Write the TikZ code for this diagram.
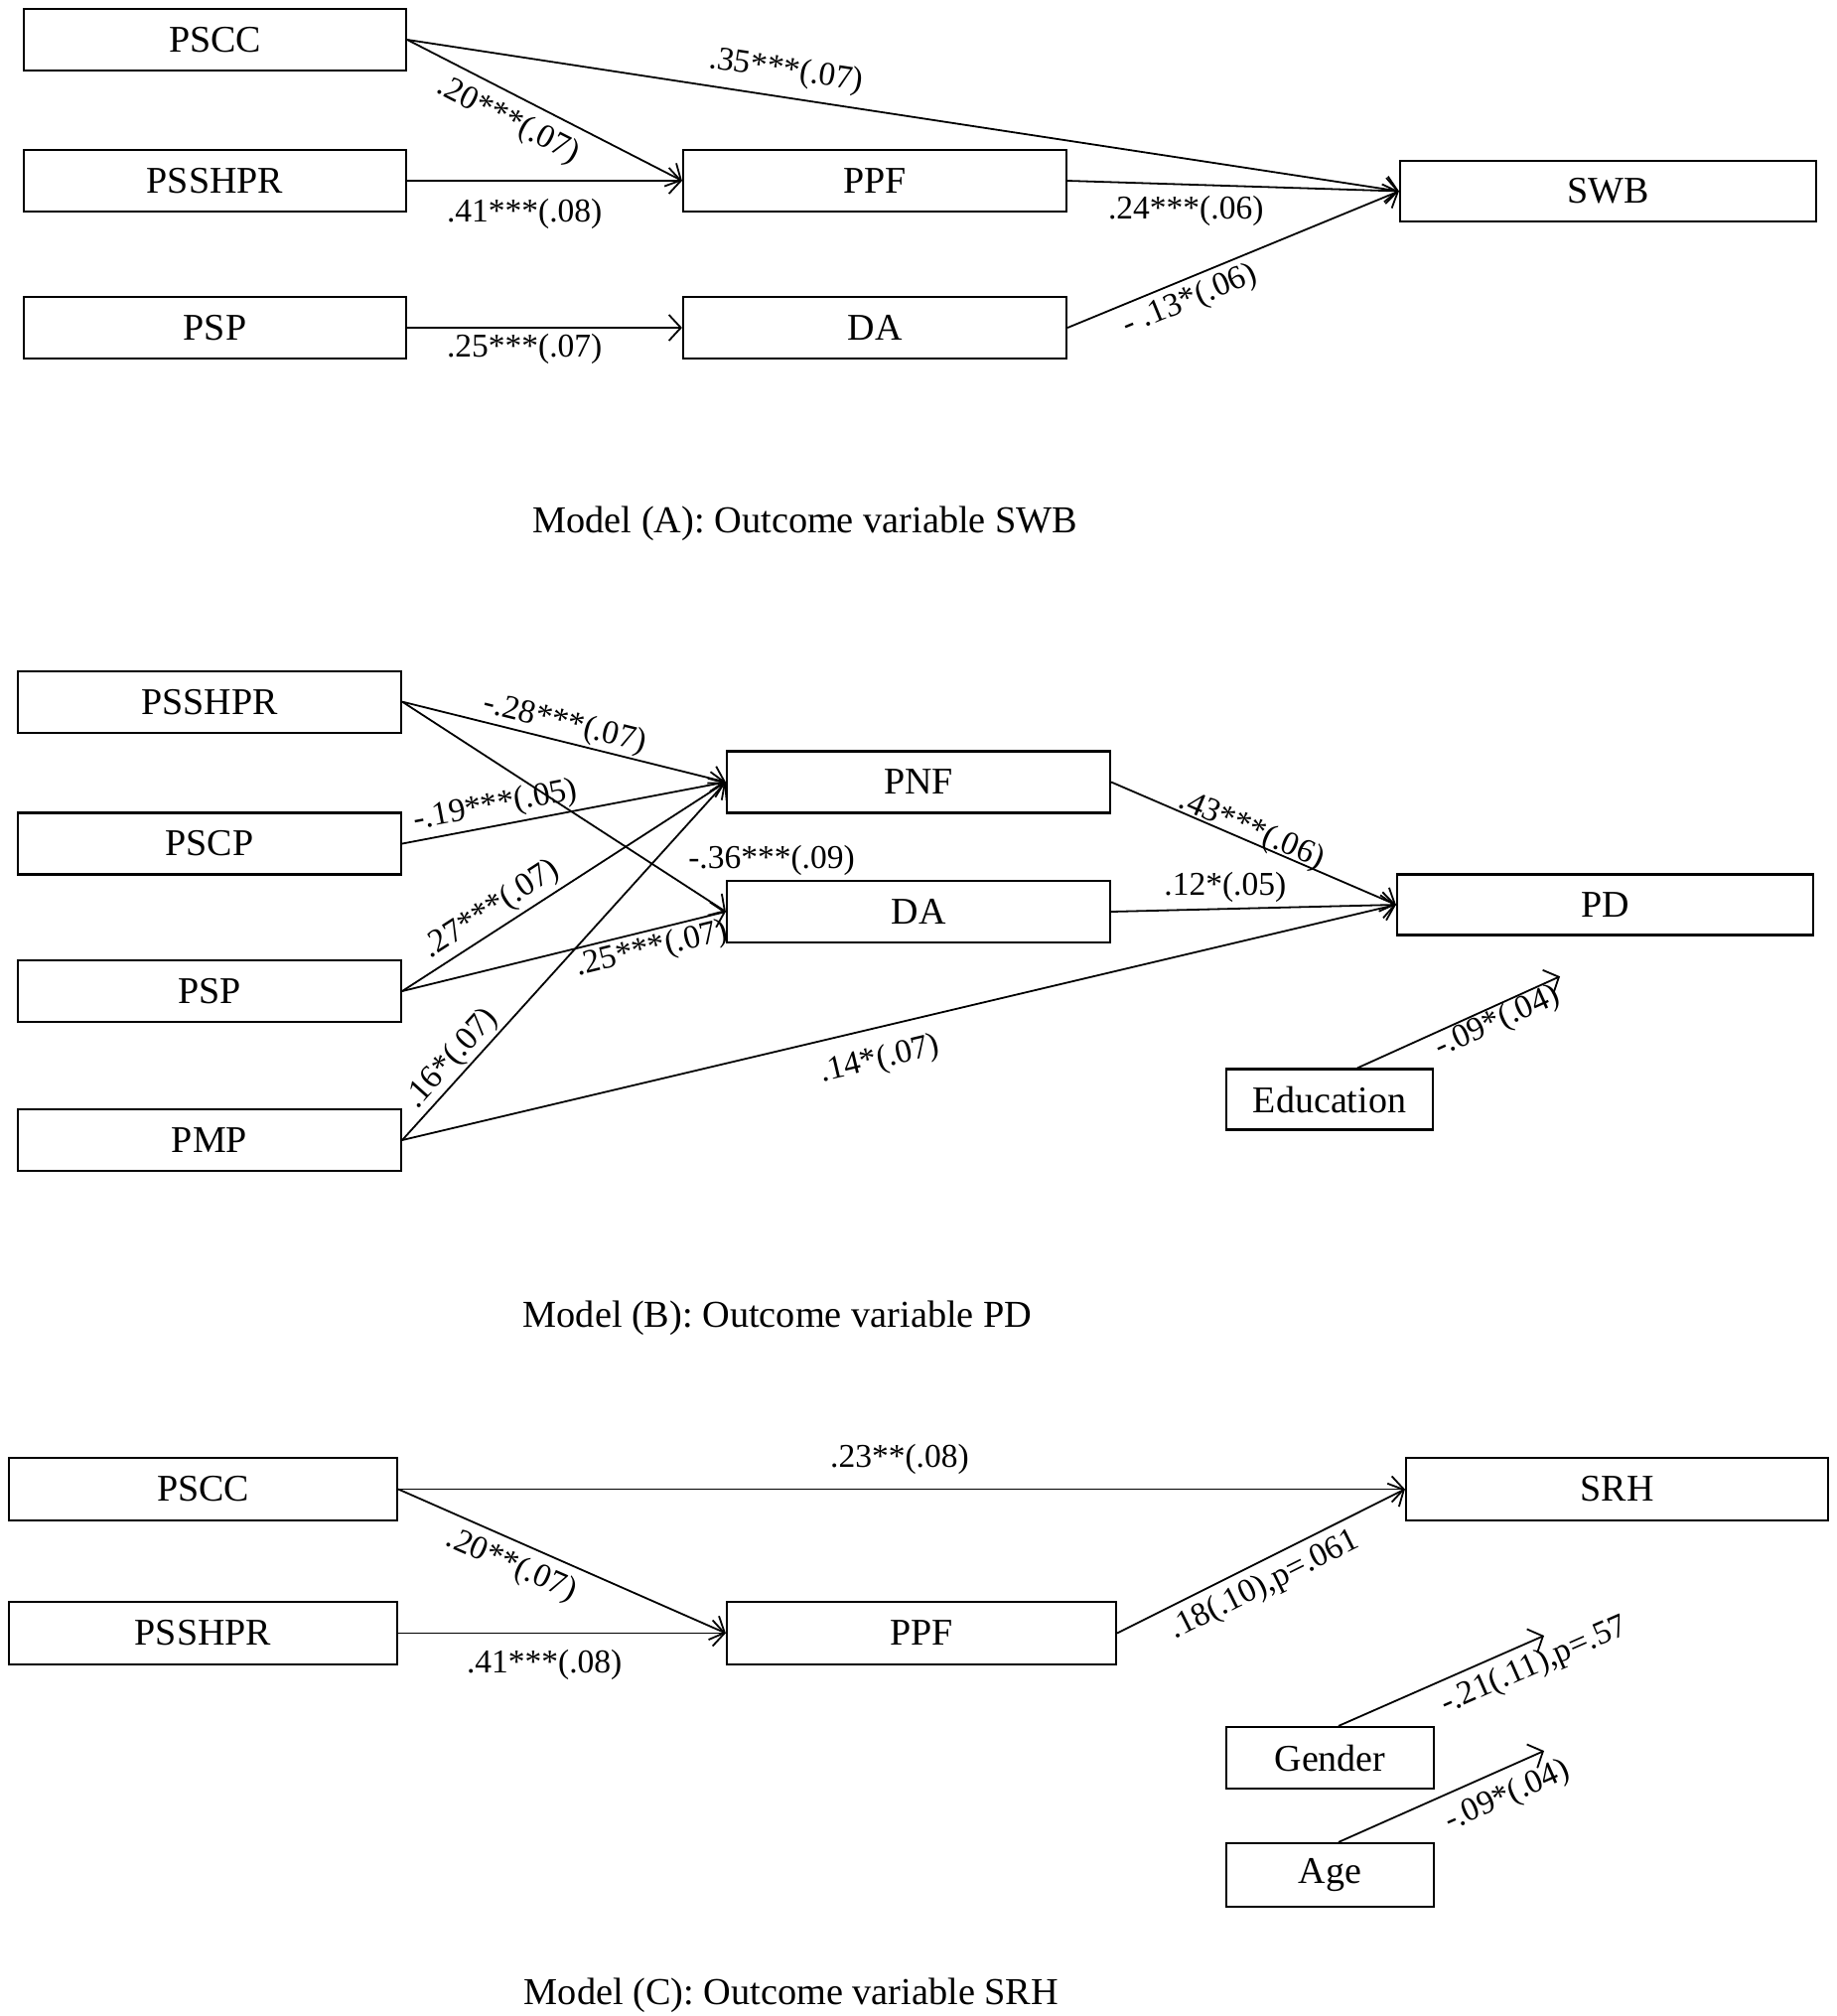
\documentclass[tikz,border=0pt]{standalone}
\usepackage{fontspec}
\setmainfont{Liberation Serif}
\usetikzlibrary{arrows.meta}
\begin{document}
\begin{tikzpicture}[x=1pt,y=-1pt,
  box/.style={draw, line width=2.2pt, rectangle, inner sep=0pt, font=\fontsize{38}{40}\selectfont},
  arr/.style={line width=1.8pt, -{Straight Barb[length=12pt,width=26pt,line width=1.8pt]}},
  lab/.style={font=\fontsize{33.5}{35}\selectfont, inner sep=0pt},
  ttl/.style={font=\fontsize{38.3}{40}\selectfont, inner sep=0pt}]
\useasboundingbox (0,0) rectangle (1850,2030);

% ---------------- Model A ----------------
\node[box, minimum width=385pt, minimum height=62pt] (apscc) at (216.5,40) {PSCC};
\node[box, minimum width=385pt, minimum height=62pt] (apsshpr) at (216.5,182) {PSSHPR};
\node[box, minimum width=385pt, minimum height=62pt] (apsp) at (216.5,330) {PSP};
\node[box, minimum width=386pt, minimum height=62pt] (appf) at (881,182) {PPF};
\node[box, minimum width=386pt, minimum height=62pt] (ada) at (881,330) {DA};
\node[box, minimum width=419pt, minimum height=61pt] (aswb) at (1619.5,192.5) {SWB};

\draw[arr] (apscc.east) -- node[lab, sloped, pos=0.378, above=10pt] {.35***(.07)} (aswb.west);
\draw[arr] (apscc.east) -- node[lab, sloped, pos=0.41, below=10pt] {.20***(.07)} (appf.west);
\draw[arr] (apsshpr.east) -- node[lab, pos=0.4265, below=17pt] {.41***(.08)} (appf.west);
\draw[arr] (apsp.east) -- node[lab, pos=0.4265, below=5pt] {.25***(.07)} (ada.west);
\draw[arr] (appf.east) -- node[lab, pos=0.357, below=11pt] {.24***(.06)} (aswb.west);
\draw[arr] (ada.east) -- node[lab, sloped, pos=0.345, below=5.5pt] {- .13*(.06)} (aswb.west);

\node[ttl] (titleA) at (811,527) {Model (A): Outcome variable SWB};

% ---------------- Model B ----------------
\node[box, minimum width=386pt, minimum height=62pt] (bpsshpr) at (211,706.6) {PSSHPR};
\node[box, minimum width=386pt, minimum height=62pt] (bpscp) at (211,849.5) {PSCP};
\node[box, minimum width=386pt, minimum height=62pt] (bpsp) at (211,998) {PSP};
\node[box, minimum width=386pt, minimum height=62pt] (bpmp) at (211,1148) {PMP};
\node[box, minimum width=386pt, minimum height=62pt] (bpnf) at (925,787.5) {PNF};
\node[box, minimum width=386pt, minimum height=62pt] (bda) at (925,918) {DA};
\node[box, minimum width=419pt, minimum height=61pt] (bpd) at (1616.5,911) {PD};
\node[box, minimum width=208pt, minimum height=61pt] (bedu) at (1339,1107) {Education};
\coordinate (bedutip) at (1571,983.2);

\draw[arr] (bpsshpr.east) -- node[lab, sloped, pos=0.49, above=1.5pt] {-.28***(.07)} (bpnf.west);
\draw[arr] (bpsshpr.east) -- (bda.west);
\draw[arr] (bpscp.east) -- node[lab, sloped, pos=0.30, above=3.5pt] {-.19***(.05)} (bpnf.west);
\draw[arr] (bpsp.east) -- node[lab, sloped, pos=0.31, above=4pt] {.27***(.07)} (bpnf.west);
\draw[arr] (bpsp.east) -- node[lab, sloped, pos=0.7575, below=3.5pt] {.25***(.07)} (bda.west);
\draw[arr] (bpmp.east) -- node[lab, sloped, pos=0.194, above=1.5pt] {.16*(.07)} (bpnf.west);
\draw[arr] (bpmp.east) -- node[lab, sloped, pos=0.473, below=16.5pt] {.14*(.07)} (bpd.west);
\draw[arr] (bpnf.east) -- node[lab, sloped, pos=0.477, above=-5pt] {.43***(.06)} (bpd.west);
\draw[arr] (bda.east) -- node[lab, pos=0.40, above=6pt] {.12*(.05)} (bpd.west);
\draw[arr] ([xshift=28pt]bedu.north) -- node[lab, sloped, pos=0.66, below=0pt] {-.09*(.04)} (bedutip);
\node[lab] (b36) at (777,866) {-.36***(.09)};

\node[ttl] (titleB) at (783,1327) {Model (B): Outcome variable PD};

% ---------------- Model C ----------------
\node[box, minimum width=391pt, minimum height=63pt] (cpscc) at (204.5,1499.5) {PSCC};
\node[box, minimum width=391pt, minimum height=63pt] (cpsshpr) at (204.5,1644.5) {PSSHPR};
\node[box, minimum width=392pt, minimum height=63pt] (cppf) at (928,1644.5) {PPF};
\node[box, minimum width=425pt, minimum height=63pt] (csrh) at (1628.5,1499.5) {SRH};
\node[box, minimum width=209pt, minimum height=62pt] (cgender) at (1339.5,1770) {Gender};
\node[box, minimum width=209pt, minimum height=64pt] (cage) at (1339.5,1888) {Age};
\coordinate (cgendertip) at (1555,1647);
\coordinate (cagetip) at (1555,1763);

\draw[arr] (cpscc.east) -- node[lab, pos=0.498, above=14pt] {.23**(.08)} (csrh.west);
\draw[arr] (cpscc.east) -- node[lab, sloped, pos=0.375, below=8.5pt] {.20**(.07)} (cppf.west);
\draw[arr] (cpsshpr.east) -- node[lab, pos=0.446, below=16pt] {.41***(.08)} (cppf.west);
\draw[arr] (cppf.east) -- node[lab, sloped, pos=0.476, below=7.5pt] {.18(.10),p=.061} (csrh.west);
\draw[arr] ([xshift=8.5pt]cgender.north) -- node[lab, sloped, pos=0.906, below=8pt] {-.21(.11),p=.57} (cgendertip);
\draw[arr] ([xshift=8.5pt]cage.north) -- node[lab, sloped, pos=0.768, below=11pt] {-.09*(.04)} (cagetip);

\node[ttl] (titleC) at (797,2009) {Model (C): Outcome variable SRH};
\end{tikzpicture}
\end{document}
